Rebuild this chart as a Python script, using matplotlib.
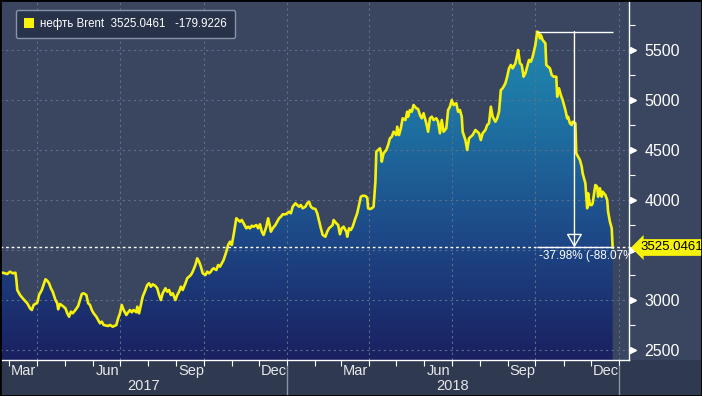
import numpy as np
import pandas as pd
import matplotlib
matplotlib.use('Agg')
import matplotlib.pyplot as plt
import matplotlib.dates as mdates
import matplotlib.transforms as mtransforms
from matplotlib.colors import LinearSegmentedColormap
from matplotlib.patches import Patch, Rectangle
from matplotlib.ticker import FixedLocator, FixedFormatter, MultipleLocator

# ---- data ----
start = np.datetime64('2017-02-19')
# days since start
days = [0, 3, 8, 11, 14, 17, 18, 19, 22, 25, 30, 33, 35, 37, 41, 43, 46, 50, 52, 54,
        56, 58, 61, 63, 64, 66, 69, 72, 74, 76, 78, 80, 83, 86, 88, 90, 92, 95, 97, 99,
        101, 103, 106, 108, 110, 112, 114,
        119, 121, 124, 128, 130, 132, 134, 136, 139, 141, 143, 145, 147, 150, 151, 153, 155, 157, 160, 162,
        164, 166, 168, 171, 173, 175, 177, 179, 182, 184, 186, 188, 190, 193, 195, 197, 199, 201, 204, 206,
        208, 210, 212, 215, 217, 219, 221, 223, 226, 228, 230,
        232, 233, 235, 238, 240, 242, 244, 246, 249, 251, 253, 255, 257, 260, 262, 264, 266, 268, 271, 273,
        275, 277, 279, 282, 284, 286, 288, 290, 293, 295, 297, 298, 300, 303, 305, 307, 309, 311, 314, 316,
        318, 320, 322, 325, 327, 329, 331, 333, 336, 338, 340, 342, 344,
        347, 349, 351, 353, 355, 358, 360, 362, 364, 366, 367, 370, 372, 374, 376, 378, 381, 382, 384, 386,
        388, 391, 393, 395, 397, 399, 402, 404, 405, 407, 409, 411, 413, 414, 416, 418, 419, 420, 422, 425,
        427, 429, 431, 433, 436, 437, 439, 441, 443, 446, 448, 449, 451, 453, 455, 458, 460, 462,
        464, 466, 469, 471, 473, 475, 477, 480, 482, 484, 486, 488, 491, 493, 495, 497, 499, 502, 504, 506,
        508, 509, 512, 514, 516, 518, 520, 523, 525, 527, 529, 531, 534, 536, 538, 540, 542, 545, 547, 549,
        551, 553, 556, 558, 560, 562, 564, 567, 569, 570, 572, 574, 576,
        578, 580, 582, 584, 586, 589, 591, 593, 594, 595, 597, 600, 601, 603, 605, 607, 609, 612, 613, 615,
        617, 619, 622, 624, 625, 627, 629, 630, 633, 634, 636, 638, 640, 641, 644, 646, 647, 649, 651, 652,
        655, 657, 658, 660, 662, 663, 666, 668, 669, 671, 673, 674]
brent = [3267, 3273, 3260, 3283, 3267, 3273, 3200, 3100, 3050, 3017, 2967, 2917, 2900, 2950, 2973, 3050, 3100, 3207, 3193, 3167,
         3117, 3083, 3000, 2967, 2907, 2960, 2940, 2917, 2867, 2833, 2883, 2867, 2900, 2940, 3000, 3060, 3067, 3050, 2967, 2950,
         2900, 2867, 2833, 2800, 2767, 2783, 2750,
         2740, 2750, 2733, 2750, 2817, 2867, 2950, 2900, 2850, 2877, 2900, 2877, 2900, 2877, 2933, 2867, 2950, 3033, 3100, 3150,
         3167, 3133, 3157, 3140, 3117, 3050, 3000, 3067, 3117, 3083, 3100, 3050, 3067, 3000, 3050, 3083, 3133, 3100, 3167, 3217,
         3233, 3250, 3283, 3350, 3417, 3383, 3333, 3267, 3250, 3283, 3267,
         3283, 3300, 3317, 3300, 3350, 3333, 3367, 3400, 3483, 3550, 3583, 3550, 3650, 3817, 3800, 3783, 3800, 3767, 3717, 3733,
         3717, 3743, 3733, 3750, 3717, 3757, 3683, 3650, 3733, 3817, 3733, 3683, 3717, 3750, 3783, 3817, 3833, 3857, 3857, 3867,
         3883, 3867, 3933, 3967, 3950, 3933, 3950, 3917, 3933, 3967, 3983, 3933, 3917,
         3910, 3867, 3790, 3717, 3650, 3633, 3683, 3717, 3733, 3750, 3800, 3767, 3750, 3657, 3717, 3733, 3683, 3633, 3717, 3700,
         3733, 3817, 3867, 3950, 4033, 4043, 4040, 4023, 3917, 3910, 3917, 3933, 4183, 4483, 4500, 4517, 4483, 4383, 4467, 4500,
         4550, 4617, 4633, 4683, 4650, 4733, 4650, 4717, 4817, 4800, 4883, 4833, 4900, 4883, 4950, 4917, 4910, 4850,
         4817, 4867, 4767, 4683, 4817, 4833, 4800, 4817, 4783, 4667, 4800, 4683, 4717, 4900, 4933, 5000, 4950, 4967, 4883, 4900,
         4833, 4683, 4600, 4500, 4617, 4633, 4650, 4700, 4683, 4667, 4600, 4667, 4700, 4750, 4767, 4933, 4833, 4783, 4817, 4883,
         5100, 5117, 5167, 5233, 5317, 5350, 5317, 5367, 5450, 5500, 5367, 5350, 5233,
         5267, 5333, 5400, 5383, 5433, 5550, 5684, 5670, 5617, 5650, 5600, 5567, 5350, 5333, 5317, 5250, 5233, 5233, 5033, 5117,
         5050, 5000, 4900, 4817, 4833, 4767, 4750, 4783, 4767, 4467, 4433, 4400, 4333, 4267, 4167, 3917, 4067, 3950, 3950, 3967,
         4150, 4133, 4033, 4117, 4033, 4083, 4050, 4000, 3883, 3783, 3717, 3525.0461]

series_name = 'нефть Brent'
last_value = 3525.0461
last_change = -179.9226
annual_text = '(-88.07%ann)'
y_ticks = [2500, 3000, 3500, 4000, 4500, 5000, 5500]
fill_colors = ['#1a2060', '#1d4786', '#1e72a3', '#1f93b5']

# ---- style ----
bg = '#3a4660'
strip = '#2f3a51'
yellow = '#f7f20c'
grid_c = '#5f6f8c'
narrow = ['Liberation Sans Narrow', 'DejaVu Sans Condensed', 'Liberation Sans']
plt.rcParams['font.family'] = ['Liberation Sans', 'DejaVu Sans']

dates = start + np.array(days, dtype='timedelta64[D]')
vals = np.array(brent, dtype=float)
x0 = start
x1 = start + np.timedelta64(692, 'D')
ymin, ymax = 2400, 6000

fig = plt.figure(figsize=(7.02, 3.96), dpi=100, facecolor=bg)
fig.patches.append(Rectangle((0, 0), 1, 36 / 396, transform=fig.transFigure,
                             fc=strip, ec='none', zorder=-1))
ax = fig.add_axes([0, 36 / 396, 629 / 702, 360 / 396])
ax.set_facecolor(bg)
ax.set_xlim(x0, x1)

# gradient fill under the line
cmap = LinearSegmentedColormap.from_list('fill', fill_colors)
xn = mdates.date2num([x0, x1])
img = ax.imshow(np.linspace(0, 1, 256).reshape(-1, 1), cmap=cmap, origin='lower',
                aspect='auto', extent=[xn[0], xn[1], ymin, ymax], zorder=1)
poly = ax.fill_between(dates, vals, ymin, facecolor='none', edgecolor='none')
img.set_clip_path(poly.get_paths()[0], transform=ax.transData)
ax.set_xlim(x0, x1)
ax.set_ylim(ymin, ymax)

# grid
ax.yaxis.tick_right()
ax.yaxis.set_major_locator(FixedLocator(y_ticks))
# the label under the last-price tag is hidden, as on the terminal chart
ax.yaxis.set_major_formatter(FixedFormatter(
    [str(t) if abs(t - last_value) > 150 else '' for t in y_ticks]))
ax.yaxis.set_minor_locator(MultipleLocator(250))
ax.grid(axis='y', which='major', color=grid_c, lw=0.8, ls=(0, (2, 3)), zorder=2)
for q in pd.date_range(str(x0), str(x1), freq='QS'):
    ax.axvline(q, color=grid_c, lw=0.8, ls=(0, (2, 3)), zorder=2)

ax.plot(dates, vals, color=yellow, lw=1.9, zorder=4)

# last value dotted line
ax.axhline(last_value, color='white', lw=1, ls=(0, (2, 2)), zorder=5)

# peak-to-last bracket
pk = int(np.argmax(vals))
ax.hlines([vals[pk], last_value], dates[pk], dates[-1], color='white', lw=1, zorder=5)
mid = dates[pk] + (dates[-1] - dates[pk]) / 2
ax.annotate('', xy=(mid, last_value), xytext=(mid, vals[pk]),
            arrowprops=dict(arrowstyle='-|>,head_length=0.6,head_width=0.35', ec='white',
                            fc='none', lw=1, shrinkA=0, shrinkB=0, mutation_scale=14),
            zorder=5)
pct = (last_value / vals[pk] - 1) * 100
ax.annotate(f'{pct:.2f}% {annual_text}', xy=(dates[pk], last_value), xytext=(1, -2),
            textcoords='offset points', ha='left', va='top', fontsize=8.5,
            color='white', family=narrow, clip_on=True, zorder=6)

# axes, ticks
for s in ['left', 'top']:
    ax.spines[s].set_visible(False)
for s in ['right', 'bottom']:
    ax.spines[s].set_color('white')
    ax.spines[s].set_linewidth(1)

ax.xaxis.set_major_locator(mdates.MonthLocator(bymonth=[3, 6, 9, 12], bymonthday=17))
ax.xaxis.set_major_formatter(mdates.DateFormatter('%b'))
ax.xaxis.set_minor_locator(mdates.MonthLocator())
ax.tick_params(axis='x', which='major', length=0, pad=3, labelsize=10.5,
               labelcolor='#e8e8e8', labelfontfamily=narrow)
ax.tick_params(axis='x', which='minor', length=4, width=0.8, color='white')
ax.tick_params(axis='y', which='major', length=3, width=1, color='white', pad=8,
               labelsize=11.5, labelcolor='white', labelfontfamily=narrow)
ax.tick_params(axis='y', which='minor', length=4, width=0.8, color='white')

tri = mtransforms.blended_transform_factory(ax.transAxes, ax.transData) + \
    mtransforms.ScaledTranslation(3 / 72, 0, fig.dpi_scale_trans)
ax.plot([1] * len(y_ticks), y_ticks, ls='none', marker='>', ms=5, color='white',
        transform=tri, clip_on=False, zorder=6)

# year row
xb = ax.get_xaxis_transform()
for yr in [2017, 2018]:
    a = max(x0, np.datetime64(f'{yr}-01-01'))
    b = min(x1, np.datetime64(f'{yr + 1}-01-01'))
    ax.annotate(str(yr), xy=(a + (b - a) / 2, 0), xycoords=xb, xytext=(0, -19),
                textcoords='offset points', ha='center', va='center', fontsize=10.5,
                color='#e8e8e8', family=narrow, annotation_clip=False)
    ax.plot([b, b], [-0.017, -0.1], transform=xb, color='#8a94a6', lw=1, clip_on=False)

# last price tag
ax.annotate(f'{last_value:.4f}', xy=(1, last_value), xycoords=('axes fraction', 'data'),
            xytext=(8, 0), textcoords='offset points', ha='left', va='center',
            fontsize=9.5, color='black', family=narrow,
            bbox=dict(boxstyle='larrow,pad=0.18', fc=yellow, ec='none'),
            annotation_clip=False, zorder=7)

# legend
leg = ax.legend([Patch(facecolor=yellow, edgecolor='none')],
                [f'{series_name}  {last_value:.4f}   {last_change:.4f}'],
                loc='upper left', bbox_to_anchor=(16 / 629, 1 - 10 / 360), borderaxespad=0,
                prop={'family': ['Liberation Sans', 'DejaVu Sans'], 'size': 8.3},
                labelcolor='white', facecolor='#28334a', edgecolor='#8793a6',
                framealpha=1, handlelength=0.9, handleheight=0.9, handletextpad=0.5,
                borderpad=0.7)
leg.set_zorder(8)

fig.patches.append(Rectangle((0, 0), 1, 1, transform=fig.transFigure, fill=False,
                             ec='black', lw=2, zorder=10))

fig.savefig('out.png', dpi=100, facecolor=bg)
